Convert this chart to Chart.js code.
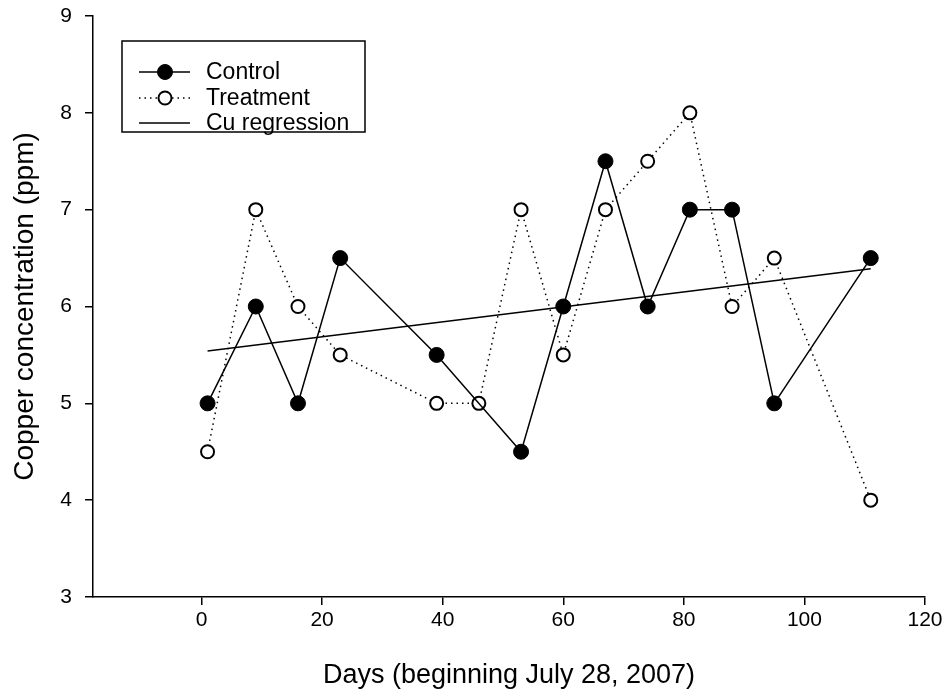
<!DOCTYPE html>
<html>
<head>
<meta charset="utf-8">
<title>Copper concentration</title>
<script src="https://cdn.jsdelivr.net/npm/chart.js@4"></script>
<style>
  html, body { margin: 0; padding: 0; background: #fff; }
  canvas { display: block; }
</style>
</head>
<body>
<canvas id="chartCopper" width="946" height="694"></canvas>
<script>
// data
var days = [1, 9, 16, 23, 39, 46, 53, 60, 67, 74, 81, 88, 95, 111];
var controlDays = [1, 9, 16, 23, 39, 53, 60, 67, 74, 81, 88, 95, 111];
var controlValues = [5, 6, 5, 6.5, 5.5, 4.5, 6, 7.5, 6, 7, 7, 5, 6.5];
var treatmentValues = [4.5, 7, 6, 5.5, 5, 5, 7, 5.5, 7, 7.5, 8, 6, 6.5, 4];
var regressionDays = [1, 111];
var regressionValues = [5.54, 6.39];
var xTickValues = [0, 20, 40, 60, 80, 100, 120];
var yTickValues = [3, 4, 5, 6, 7, 8, 9];

var fontFamily = "'Liberation Sans', Arial, sans-serif";

function toPoints(xs, ys) {
    return xs.map(function(x, i) { return {x: x, y: ys[i]}; });
}

// legend drawn as a boxed key, like the original figure
var boxedLegend = {
    id: 'boxedLegend',
    afterDraw: function(chart) {
        var ctx = chart.ctx;
        var sets = chart.data.datasets;
        var rows = [72, 98, 123];
        ctx.save();
        ctx.strokeStyle = '#000';
        ctx.lineWidth = 1.5;
        ctx.strokeRect(122, 41, 243, 91);
        sets.forEach(function(ds, i) {
            var y = rows[i];
            ctx.beginPath();
            ctx.setLineDash(ds.borderDash || []);
            ctx.lineWidth = ds.borderWidth;
            ctx.moveTo(139, y);
            ctx.lineTo(190, y);
            ctx.stroke();
            ctx.setLineDash([]);
            if (ds.pointRadius > 0) {
                ctx.beginPath();
                ctx.arc(165, y, ds.pointRadius, 0, Math.PI * 2);
                ctx.fillStyle = ds.pointBackgroundColor;
                ctx.fill();
                ctx.lineWidth = ds.pointBorderWidth;
                ctx.stroke();
            }
            ctx.fillStyle = '#000';
            ctx.font = '23px ' + fontFamily;
            ctx.textBaseline = 'middle';
            ctx.textAlign = 'left';
            ctx.fillText(ds.label, 206, y + 1);
        });
        ctx.restore();
    }
};

var ctx = document.getElementById('chartCopper');
var myChart = new Chart(ctx, {
    type: 'line',
    data: {
        datasets: [{
            label: 'Control',
            data: toPoints(controlDays, controlValues),
            borderColor: '#000000',
            backgroundColor: '#000000',
            borderWidth: 1.5,
            pointRadius: 7.5,
            pointBackgroundColor: '#000000',
            pointBorderColor: '#000000',
            pointBorderWidth: 1,
            tension: 0,
            order: 0
        }, {
            label: 'Treatment',
            data: toPoints(days, treatmentValues),
            borderColor: '#000000',
            backgroundColor: '#ffffff',
            borderWidth: 1.5,
            borderDash: [1.5, 4],
            pointRadius: 6.5,
            pointBackgroundColor: '#ffffff',
            pointBorderColor: '#000000',
            pointBorderWidth: 2,
            tension: 0,
            order: 1
        }, {
            label: 'Cu regression',
            data: toPoints(regressionDays, regressionValues),
            borderColor: '#000000',
            borderWidth: 1.5,
            pointRadius: 0,
            tension: 0,
            order: 2
        }]
    },
    options: {
        responsive: false,
        animation: false,
        layout: { padding: { top: 16, right: 21, left: 0, bottom: 0 } },
        plugins: {
            legend: { display: false },
            tooltip: { enabled: false }
        },
        scales: {
            x: {
                type: 'linear',
                min: -18,
                max: 120,
                afterBuildTicks: function(scale) {
                    scale.ticks = xTickValues.map(function(v) { return {value: v}; });
                },
                afterFit: function(scale) { scale.height = 97; },
                border: { display: true, color: '#000', width: 1.5 },
                grid: { display: true, drawOnChartArea: false, drawTicks: true, tickLength: 8, color: '#000', lineWidth: 1.5 },
                ticks: { color: '#000', padding: 3, maxRotation: 0, font: { family: fontFamily, size: 21 } },
                title: {
                    display: true,
                    text: 'Days (beginning July 28, 2007)',
                    color: '#000',
                    font: { family: fontFamily, size: 27 },
                    padding: { top: 0, bottom: 2 }
                }
            },
            y: {
                min: 3,
                max: 9,
                afterBuildTicks: function(scale) {
                    scale.ticks = yTickValues.map(function(v) { return {value: v}; });
                },
                afterFit: function(scale) {
                    scale.width = 93;
                    scale.paddingTop = 0;
                    scale.paddingBottom = 0;
                },
                border: { display: true, color: '#000', width: 1.5 },
                grid: { display: true, drawOnChartArea: false, drawTicks: true, tickLength: 8, color: '#000', lineWidth: 1.5 },
                ticks: { color: '#000', padding: 13, font: { family: fontFamily, size: 21 } },
                title: {
                    display: true,
                    text: 'Copper concentration (ppm)',
                    color: '#000',
                    font: { family: fontFamily, size: 28 },
                    padding: { top: 8, bottom: 0 }
                }
            }
        }
    },
    plugins: [boxedLegend]
});
</script>
</body>
</html>
